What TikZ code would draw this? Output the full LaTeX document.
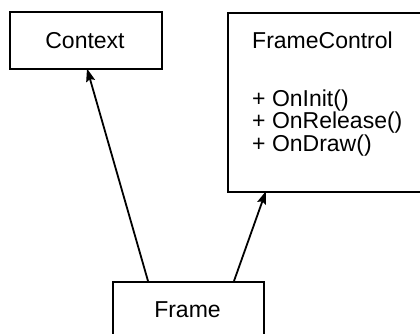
\documentclass[tikz,border=0pt]{standalone}
\usepackage{fontspec}
\setmainfont{Liberation Sans}
\usetikzlibrary{arrows.meta}
\begin{document}
\begin{tikzpicture}[x=1pt,y=-1pt,
  box/.style={draw=black,line width=2pt,fill=white},
  lbl/.style={inner sep=0pt,font=\fontsize{23}{27}\selectfont},
  link/.style={draw=black,line width=1.8pt,-{Stealth[length=13pt,width=9pt,inset=2pt]}}]
\useasboundingbox (0,0) rectangle (420,333);
% class boxes
\node[box,minimum width=152pt,minimum height=57pt,anchor=north west,inner sep=0pt] (ctx) at (9,11) {};
\node[box,minimum width=200pt,minimum height=179pt,anchor=north west,inner sep=0pt] (fc) at (227,11.5) {};
\node[box,minimum width=151pt,minimum height=70pt,anchor=north west,inner sep=0pt] (fr) at (112,281) {};
% labels
\node[lbl,anchor=base] (ctxlbl) at (85,48) {Context};
\node[lbl,anchor=base west] (fclbl) at (252,48) {FrameControl};
\node[lbl,anchor=base west] (m1) at (252,106) {+ OnInit()};
\node[lbl,anchor=base west] (m2) at (252,128.5) {+ OnRelease()};
\node[lbl,anchor=base west] (m3) at (252,151) {+ OnDraw()};
\node[lbl,anchor=base] (frlbl) at (187.5,317) {Frame};
% associations
\coordinate (a1) at (148,281);
\coordinate (b1) at (87,68.5);
\coordinate (a2) at (234,281);
\coordinate (b2) at (266,191);
\draw[link] (a1) -- (b1);
\draw[link] (a2) -- (b2);
\end{tikzpicture}
\end{document}
